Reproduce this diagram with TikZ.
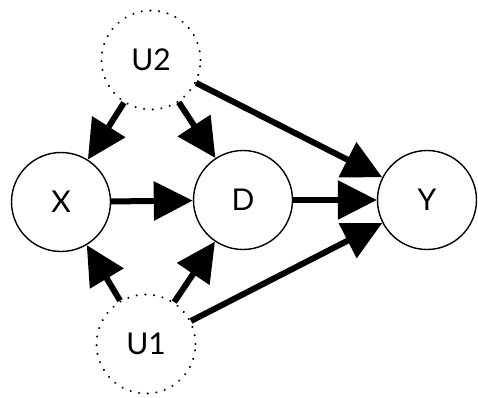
\documentclass[tikz,border=0pt]{standalone}
\usepackage{fontspec}
\setmainfont{Lato}
\usetikzlibrary{arrows.meta}
\tikzset{
  var/.style={circle,draw=black,line width=1.4pt,minimum size=99pt,inner sep=0pt,font=\fontsize{30}{33}\selectfont},
  latent/.style={var,line width=2.2pt,dash pattern=on 0.1pt off 8.6pt,line cap=round},
  cause/.style={-{Triangle[length=39pt,width=38pt]},line width=6pt,draw=black}
}
\begin{document}
\begin{tikzpicture}[x=1pt,y=-1pt]
  \useasboundingbox (0,0) rectangle (478,397);
  \node[latent] (u2) at (151,60) {U2};
  \node[var] (x) at (61,202) {X};
  \node[var] (d) at (243,200) {D};
  \node[var] (y) at (427,200) {Y};
  \node[latent] (u1) at (146,344) {U1};
  \draw[cause] (u2) -- (x);
  \draw[cause] (u2) -- (d);
  \draw[cause] (u2) -- (y);
  \draw[cause] (x) -- (d);
  \draw[cause] (d) -- (y);
  \draw[cause] (u1) -- (x);
  \draw[cause] (u1) -- (d);
  \draw[cause] (u1) -- (y);
\end{tikzpicture}
\end{document}
